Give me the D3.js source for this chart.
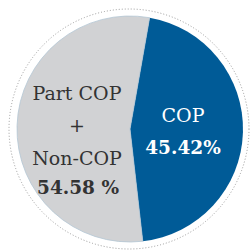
<!DOCTYPE html>
<html>
<head>
<meta charset="utf-8">
<script src="https://cdn.jsdelivr.net/npm/d3@7"></script>
<style>
  body { margin: 0; background: #fff; }
</style>
</head>
<body>
<div id="chart"></div>
<script>
// Slice data (percent shares)
var categories = ["COP", "Part COP + Non-COP"];
var values = [45.42, 54.58];
var valueLabels = ["45.42%", "54.58 %"];
var nameLines = [["COP"], ["Part COP", "+", "Non-COP"]];
var colors = ["#005b97", "#d1d2d4"];

var width = 250, height = 251;
var cx = 130, cy = 129, radius = 113;
var serif = "'DejaVu Serif', serif";

var svg = d3.select("#chart").append("svg")
  .attr("width", width)
  .attr("height", height);

// Dotted outer ring
svg.append("circle")
  .attr("cx", 129).attr("cy", 129).attr("r", 120)
  .attr("fill", "none")
  .attr("stroke", "#9a9a9a")
  .attr("stroke-width", 1)
  .attr("stroke-dasharray", "1,2");

var g = svg.append("g").attr("transform", "translate(" + cx + "," + cy + ")");

var start = 10 * Math.PI / 180;
var pie = d3.pie().sort(null)
  .startAngle(start)
  .endAngle(start + 2 * Math.PI);

var arc = d3.arc().innerRadius(0).outerRadius(radius);

var arcs = pie(values);

g.selectAll("path")
  .data(arcs)
  .enter().append("path")
  .attr("d", arc)
  .attr("fill", function(d, i) { return colors[i]; })
  .attr("stroke", function(d, i) { return i === 1 ? "#b4c6d4" : "none"; })
  .attr("stroke-width", 0.8);

function label(x, y, t, fill, bold) {
  svg.append("text")
    .attr("x", x).attr("y", y)
    .attr("text-anchor", "middle")
    .attr("fill", fill)
    .attr("font-family", serif)
    .attr("font-size", bold ? 18.5 : 19)
    .attr("font-weight", bold ? "bold" : "normal")
    .text(t);
}

// COP labels (white)
label(183, 122, nameLines[0][0], "#fff", false);
label(183, 154, valueLabels[0], "#fff", true);

// Part COP + Non-COP labels (dark)
var ys = [100, 132, 165];
nameLines[1].forEach(function(t, i) { label(77, ys[i], t, "#333", false); });
label(78, 194, valueLabels[1], "#333", true);
</script>
</body>
</html>
